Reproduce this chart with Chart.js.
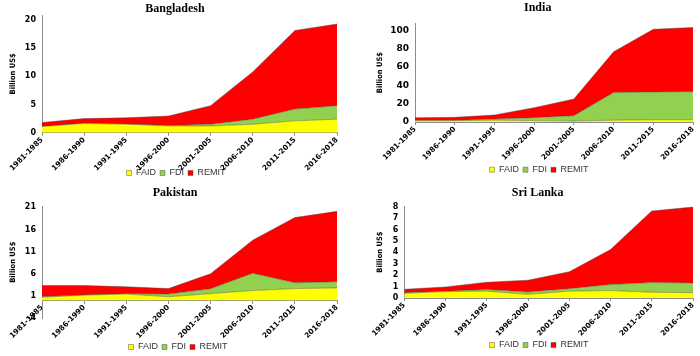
<!DOCTYPE html>
<html>
<head>
<meta charset="utf-8">
<script src="https://cdn.jsdelivr.net/npm/chart.js@4/dist/chart.umd.min.js"></script>
<style>
  html, body { margin: 0; padding: 0; background: #fff; }
  #wrap { position: relative; width: 700px; height: 356px; background: #fff; overflow: hidden; }
  canvas { position: absolute; }
</style>
</head>
<body>
<div id="wrap">
  <canvas id="c1" width="350" height="178" style="left:0;top:0"></canvas>
  <canvas id="c2" width="350" height="178" style="left:350px;top:0"></canvas>
  <canvas id="c3" width="350" height="178" style="left:0;top:178px"></canvas>
  <canvas id="c4" width="350" height="178" style="left:350px;top:178px"></canvas>
</div>
<script>
// ---- Data (billion US$, period averages) ----
const categories = ['1981-1985','1986-1990','1991-1995','1996-2000','2001-2005','2006-2010','2011-2015','2016-2018'];
const seriesNames = ['FAID', 'FDI', 'REMIT'];

const bdFAID  = [1.1, 1.65, 1.5, 1.2, 1.2, 1.5, 2.1, 2.4];
const bdFDI   = [0.02, 0.05, 0.05, 0.1, 0.3, 0.9, 2.1, 2.4];
const bdREMIT = [0.7, 0.8, 1.1, 1.65, 3.3, 8.4, 13.95, 14.5];

const inFAID  = [1.5, 1.5, 2, 1.5, 1, 2, 2.5, 2.5];
const inFDI   = [0.1, 0.2, 1.3, 3.2, 5.9, 30, 30.2, 30.5];
const inREMIT = [3.1, 3.4, 4.3, 10.9, 18.1, 44.4, 68.3, 70];

const pkFAID  = [0.7, 1.15, 1.4, 0.8, 1.5, 2.2, 2.65, 2.8];
const pkFDI   = [0.15, 0.05, 0.1, 0.6, 1.1, 3.9, 1.3, 1.4];
const pkREMIT = [2.5, 2.15, 1.55, 1.25, 3.4, 7.5, 14.75, 15.9];

const lkFAID  = [0.41, 0.56, 0.6, 0.32, 0.6, 0.65, 0.5, 0.47];
const lkFDI   = [0.06, 0.04, 0.14, 0.21, 0.22, 0.53, 0.85, 0.85];
const lkREMIT = [0.29, 0.37, 0.64, 1.03, 1.48, 3.06, 6.27, 6.65];

const bdTicks = [0, 5, 10, 15, 20];
const inTicks = [0, 20, 40, 60, 80, 100];
const pkTicks = [-4, 1, 6, 11, 16, 21];
const lkTicks = [0, 1, 2, 3, 4, 5, 6, 7, 8];

// ---- Styling ----
const COLORS = ['#FFFF00', '#92D050', '#FF0000'];
const AXIS = '#8c8c8c';

const placePlugin = {
  id: 'place',
  afterLayout(chart, args, o) {
    const t = chart.titleBlock;
    if (t && o.titleX != null) { const w = t.right - t.left; t.left = o.titleX - w / 2; t.right = t.left + w; }
    const l = chart.legend;
    if (l && o.legendX != null) { const w = l.right - l.left; l.left = o.legendX - w / 2; l.right = l.left + w; }
    if (l && o.legendY != null) { const h = l.bottom - l.top; l.top = o.legendY - 4 - 4.5; l.bottom = l.top + h; }
    // let rotated category labels run past the (fixed-height) x-axis box
    if (chart.scales.x && o.extendX) { chart.scales.x.bottom = chart.height; }
  }
};

function ds(label, data, color, idx) {
  return {
    label, data,
    backgroundColor: color,
    borderColor: 'rgba(70,70,70,0.55)',
    borderWidth: 0.8,
    fill: idx === 0 ? 'origin' : '-1',
    pointRadius: 0, tension: 0
  };
}

function build(id, o) {
  const xScale = {
    offset: false,
    grid: { drawOnChartArea: false, color: AXIS, tickLength: 3 },
    border: { color: AXIS },
    ticks: { minRotation: 45, maxRotation: 45, autoSkip: false, padding: 0, color: '#000',
             font: { family: 'DejaVu Sans', size: 7.3, weight: 'bold' } }
  };
  if (o.xPos) xScale.position = o.xPos;
  if (o.xH != null) xScale.afterFit = s => { s.height = o.xH; };

  return new Chart(document.getElementById(id), {
    type: 'line',
    data: {
      labels: categories,
      datasets: [ds(seriesNames[0], o.faid, COLORS[0], 0), ds(seriesNames[1], o.fdi, COLORS[1], 1), ds(seriesNames[2], o.remit, COLORS[2], 2)]
    },
    options: {
      responsive: false, animation: false, devicePixelRatio: 1,
      layout: { padding: { left: o.padL, right: o.padR, top: 0, bottom: o.padB || 0 } },
      plugins: {
        title: { display: true, text: o.title, color: '#000',
                 font: { family: 'Liberation Serif', size: 12, weight: 'bold', lineHeight: 1 },
                 padding: { top: o.tTop, bottom: o.tBot } },
        legend: { position: 'bottom',
                  labels: { boxWidth: 5, boxHeight: 5, padding: 4, color: '#333',
                            font: { family: 'Liberation Sans', size: 9 } } },
        tooltip: { enabled: false },
        place: { titleX: o.titleX, legendX: o.legendX, legendY: o.legendY, extendX: !o.xPos }
      },
      scales: {
        x: xScale,
        y: {
          stacked: true, min: o.min, max: o.max,
          grid: { display: false, drawTicks: false },
          border: { color: AXIS },
          ticks: { padding: 6, autoSkip: false, color: '#000', font: { family: 'DejaVu Sans', size: o.yFont, weight: 'bold' } },
          afterBuildTicks: s => { s.ticks = o.ticks.map(v => ({ value: v })); },
          afterFit: s => { s.width = o.yW; },
          title: { display: true, text: 'Billion US$', color: '#000', padding: 0,
                   font: { family: "'Liberation Sans Narrow', 'DejaVu Sans Condensed', 'Liberation Sans', sans-serif", size: 7.5, weight: 'bold', lineHeight: 1 } }
        }
      }
    },
    plugins: [placePlugin]
  });
}

build('c1', { title: 'Bangladesh', faid: bdFAID, fdi: bdFDI, remit: bdREMIT, ticks: bdTicks,
  min: 0, max: 20.9, yFont: 8, padL: 9.5, padR: 13, yW: 32.5, tTop: 2.5, tBot: 0.5,
  xH: 22.3, titleX: 175, legendX: 176, legendY: 173 });

build('c2', { title: 'India', faid: inFAID, fdi: inFDI, remit: inREMIT, ticks: inTicks,
  min: 0, max: 107.5, yFont: 9, padL: 26.75, padR: 7, yW: 38.25, tTop: 2.3, tBot: 9,
  xH: 33, titleX: 187.7, legendX: 189, legendY: 169.7 });

build('c3', { title: 'Pakistan', faid: pkFAID, fdi: pkFDI, remit: pkREMIT, ticks: pkTicks,
  min: -4, max: 21.2, yFont: 8, padL: 9.5, padR: 13, yW: 32.5, tTop: 9, tBot: 7.5,
  xPos: { y: 0 }, padB: 15, titleX: 175, legendX: 178, legendY: 169 });

build('c4', { title: 'Sri Lanka', faid: lkFAID, fdi: lkFDI, remit: lkREMIT, ticks: lkTicks,
  min: 0, max: 8.03, yFont: 8, padL: 26.75, padR: 7, yW: 27.5, tTop: 9, tBot: 7.3,
  xH: 35, titleX: 187.7, legendX: 189, legendY: 167 });
</script>
</body>
</html>
